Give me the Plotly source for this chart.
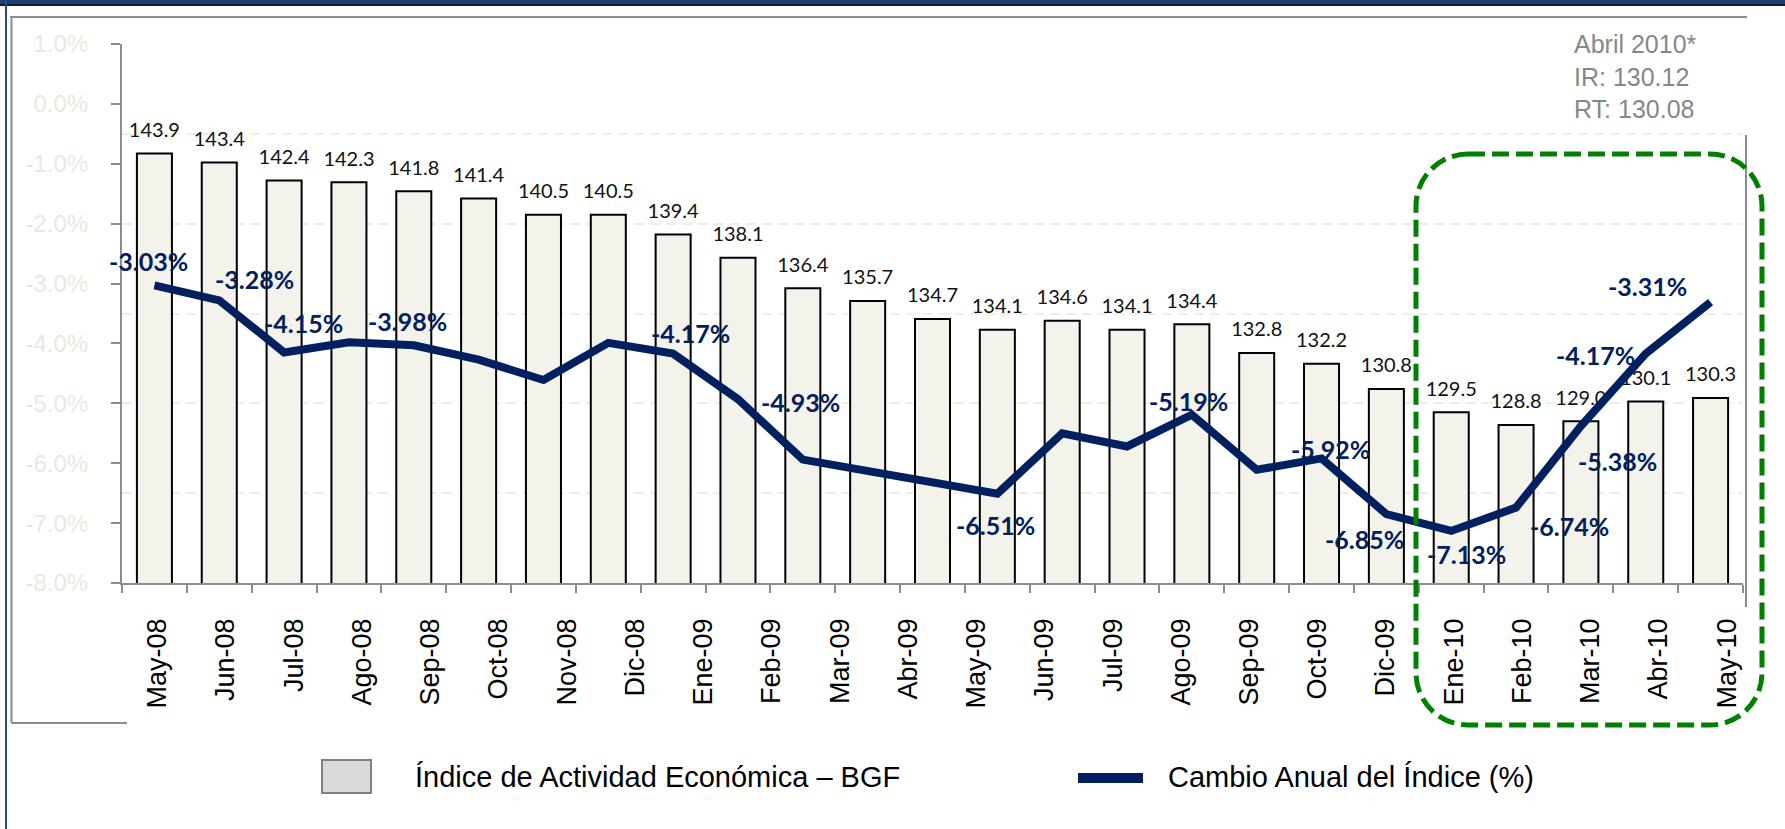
import plotly.graph_objects as go

# ---------------- data ----------------
months = ["May-08", "Jun-08", "Jul-08", "Ago-08", "Sep-08", "Oct-08", "Nov-08", "Dic-08",
          "Ene-09", "Feb-09", "Mar-09", "Abr-09", "May-09", "Jun-09", "Jul-09", "Ago-09",
          "Sep-09", "Oct-09", "Nov-09", "Dic-09", "Ene-10", "Feb-10", "Mar-10", "Abr-10", "May-10"]

tick_labels = ["May-08", "Jun-08", "Jul-08", "Ago-08", "Sep-08", "Oct-08", "Nov-08", "Dic-08",
               "Ene-09", "Feb-09", "Mar-09", "Abr-09", "May-09", "Jun-09", "Jul-09", "Ago-09",
               "Sep-09", "Oct-09", "Dic-09", "Ene-10", "Feb-10", "Mar-10", "Abr-10", "May-10"]

index_values = [143.9, 143.4, 142.4, 142.3, 141.8, 141.4, 140.5, 140.5, 139.4, 138.1, 136.4, 135.7,
                134.7, 134.1, 134.6, 134.1, 134.4, 132.8, 132.2, 130.8, 129.5, 128.8, 129.0, 130.1, 130.3]

annual_change = [-3.03, -3.28, -4.15, -3.98, -4.03, -4.27, -4.61, -3.99, -4.17, -4.93, -5.94, -6.12,
                 -6.31, -6.51, -5.50, -5.72, -5.19, -6.11, -5.92, -6.85, -7.13, -6.74, -5.38, -4.17, -3.31]

y_tick_labels = ["1.0%", "0.0%", "-1.0%", "-2.0%", "-3.0%", "-4.0%", "-5.0%", "-6.0%", "-7.0%", "-8.0%"]

legend_names = ["Índice de Actividad Económica – BGF", "Cambio Anual del Índice (%)"]
note_lines = ["Abril 2010*", "IR: 130.12", "RT: 130.08"]

# ---------------- layout helpers ----------------
W_FIG, H_FIG = 1785, 829
M_L, M_R, M_T, M_B = 122, 42, 44, 246
PW = W_FIG - M_L - M_R
PH = H_FIG - M_T - M_B


def px(x):
    return (x - M_L) / PW


def py(y):
    return (H_FIG - M_B - y) / PH


NAVY = "#002060"
GRAY = "#8C8C8C"
LIGHT = "#EBE8DC"

fig = go.Figure()

fig.add_trace(go.Bar(
    x=months, y=index_values, xaxis="x", yaxis="y", name=legend_names[0],
    marker=dict(color="#F3F2EB", line=dict(color="#000000", width=2)),
    showlegend=False))

fig.add_trace(go.Scatter(
    x=months, y=index_values, xaxis="x", yaxis="y", mode="markers+text",
    text=[f"{v:.1f}" for v in index_values], textposition="top center",
    textfont=dict(family="Lato", size=20, color="#111111"),
    marker=dict(size=17, opacity=0), showlegend=False, hoverinfo="skip", cliponaxis=False))

fig.add_trace(go.Scatter(
    x=months, y=annual_change, xaxis="x", yaxis="y2", mode="lines", name=legend_names[1],
    line=dict(color=NAVY, width=8), showlegend=False))

fig.add_trace(go.Scatter(
    x=tick_labels, y=[None] * len(tick_labels), xaxis="x2", yaxis="y", mode="markers",
    showlegend=False, hoverinfo="skip"))

fig.update_layout(
    width=W_FIG, height=H_FIG, autosize=False,
    margin=dict(l=M_L, r=M_R, t=M_T, b=M_B, pad=0),
    paper_bgcolor="white", plot_bgcolor="white",
    bargap=0.46, showlegend=False,
    font=dict(family="Liberation Sans, Arial, sans-serif"),
    xaxis=dict(type="category", categoryorder="array", categoryarray=months,
               range=[-0.5, len(months) - 0.5], showline=True, linecolor=GRAY, linewidth=2,
               ticks="outside", tickson="boundaries", ticklen=8, tickwidth=2, tickcolor=GRAY,
               showticklabels=False, showgrid=False, zeroline=False, fixedrange=True),
    xaxis2=dict(type="category", overlaying="x", anchor="y", side="bottom",
                categoryorder="array", categoryarray=tick_labels, range=[-0.517, 23.235],
                showline=False, ticks="", showgrid=False, tickangle=-90,
                tickfont=dict(family="Liberation Sans", size=27, color="#000000"),
                ticklabelstandoff=29, fixedrange=True),
    yaxis=dict(range=[120, 150], tick0=120, dtick=5, showgrid=True, gridcolor="#EFEDE4",
               gridwidth=2, griddash="10px,6px", showticklabels=False, ticks="",
               showline=False, zeroline=False, fixedrange=True),
    yaxis2=dict(overlaying="y", side="left", anchor="x", range=[-8, 1],
                tickvals=[float(s.rstrip("%")) for s in y_tick_labels], ticktext=y_tick_labels,
                showline=True, linecolor=GRAY, linewidth=2, ticks="outside", ticklen=9,
                tickwidth=2, tickcolor=GRAY,
                tickfont=dict(family="Liberation Sans", size=24, color=LIGHT),
                showgrid=False, zeroline=False, ticklabelstandoff=18, fixedrange=True),
)

# ---------------- line data labels ----------------
label_offsets = {0: (-6, 24), 1: (35, 21), 2: (19, 29), 3: (59, 21), 8: (17, 21), 9: (63, -3),
                 13: (-2, -31), 16: (-3, 14), 18: (9, 9), 19: (-22, -25), 20: (15, -23),
                 21: (53, -18), 22: (37, -35), 23: (-50, -1), 24: (-63, 16)}
for i, (dx, dy) in label_offsets.items():
    fig.add_annotation(x=months[i], y=annual_change[i], xref="x", yref="y2",
                       text=f"{annual_change[i]:.2f}%", showarrow=False, xshift=dx, yshift=dy,
                       font=dict(family="Lato", size=25, color=NAVY, weight="bold"))

# ---------------- note box ----------------
fig.add_annotation(x=px(1572), y=py(77), xref="paper", yref="paper", xanchor="left",
                   yanchor="middle", align="left", showarrow=False,
                   text="<br>".join(note_lines),
                   font=dict(family="Liberation Sans", size=25, color="#878787"))

# ---------------- legend ----------------
fig.add_annotation(x=px(413), y=py(777), xref="paper", yref="paper", xanchor="left",
                   yanchor="middle", showarrow=False, text=legend_names[0],
                   font=dict(family="Liberation Sans", size=29, color="#000000"))
fig.add_annotation(x=px(1166), y=py(777), xref="paper", yref="paper", xanchor="left",
                   yanchor="middle", showarrow=False, text=legend_names[1],
                   font=dict(family="Liberation Sans", size=29, color="#000000"))

shapes = []
# legend symbols
shapes.append(dict(type="rect", xref="paper", yref="paper", x0=px(322), x1=px(371),
                   y0=py(793), y1=py(760), fillcolor="#D9D9D9", line=dict(color="#808080", width=2)))
shapes.append(dict(type="line", xref="paper", yref="paper", x0=px(1078), x1=px(1143),
                   y0=py(778), y1=py(778), line=dict(color=NAVY, width=10)))
# white box behind note
shapes.append(dict(type="rect", xref="paper", yref="paper", x0=px(1555), x1=px(1760),
                   y0=py(130), y1=py(20), fillcolor="white", line=dict(width=0), layer="above"))
# chart frame (partially hidden in original)
frame = [((10, 17), (1747, 17)), ((11.5, 17), (11.5, 723)), ((1746, 135), (1746, 607)),
         ((11.5, 723), (127, 723))]
for (xa, ya), (xb, yb) in frame:
    shapes.append(dict(type="line", xref="paper", yref="paper", x0=px(xa), y0=py(ya),
                       x1=px(xb), y1=py(yb), line=dict(color=GRAY, width=2)))
# outer page border
shapes.append(dict(type="rect", xref="paper", yref="paper", x0=px(0), x1=px(W_FIG),
                   y0=py(4), y1=py(0), fillcolor="#1F3F70", line=dict(width=0)))
shapes.append(dict(type="rect", xref="paper", yref="paper", x0=px(0), x1=px(W_FIG),
                   y0=py(6), y1=py(4), fillcolor="#0E1B33", line=dict(width=0)))
shapes.append(dict(type="rect", xref="paper", yref="paper", x0=px(5), x1=px(7),
                   y0=py(H_FIG), y1=py(0), fillcolor="#27478A", line=dict(width=0)))

# green dashed rounded highlight box
x0, x1, yt, yb, r = 1416, 1762, 154, 725, 52
k = 0.5523


def P(x, y):
    return f"{px(x):.5f},{py(y):.5f}"


path = (f"M {P(x0 + r, yt)} L {P(x1 - r, yt)} "
        f"C {P(x1 - r + k * r, yt)} {P(x1, yt + r - k * r)} {P(x1, yt + r)} "
        f"L {P(x1, yb - r)} "
        f"C {P(x1, yb - r + k * r)} {P(x1 - r + k * r, yb)} {P(x1 - r, yb)} "
        f"L {P(x0 + r, yb)} "
        f"C {P(x0 + r - k * r, yb)} {P(x0, yb - r + k * r)} {P(x0, yb - r)} "
        f"L {P(x0, yt + r)} "
        f"C {P(x0, yt + r - k * r)} {P(x0 + r - k * r, yt)} {P(x0 + r, yt)} Z")
shapes.append(dict(type="path", xref="paper", yref="paper", path=path,
                   line=dict(color="#008000", width=5, dash="17px,7px"), layer="above"))

fig.update_layout(shapes=shapes)

fig.write_html("out.html", config={"displayModeBar": False},
               post_script="document.body.style.margin='0';")
